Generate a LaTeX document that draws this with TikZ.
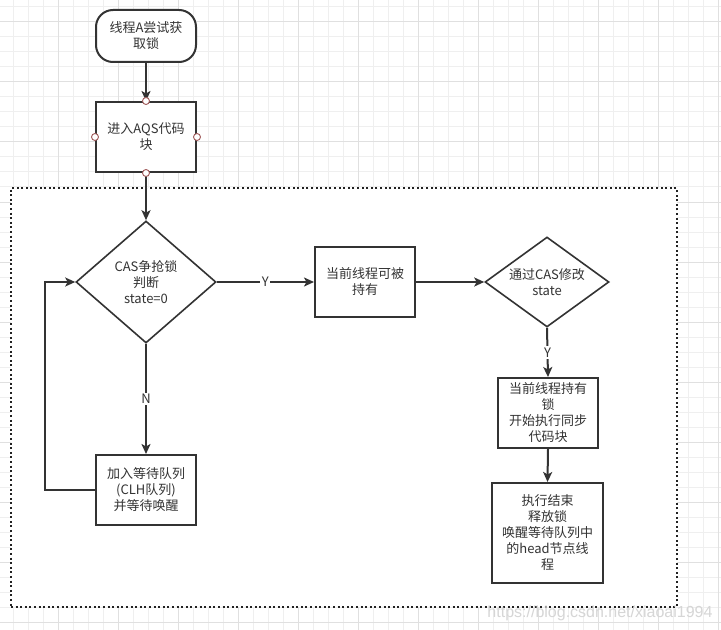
\documentclass[tikz,border=0pt]{standalone}
\usepackage{fontspec}
\setmainfont{Noto Sans CJK SC}
\newfontfamily\wmfont{Liberation Sans}
\usetikzlibrary{shapes.geometric,arrows.meta}
\definecolor{ink}{HTML}{333333}
\definecolor{dotink}{HTML}{222222}
\definecolor{gminor}{HTML}{EFEFEF}
\definecolor{gmajor}{HTML}{E0E0E0}
\definecolor{portc}{HTML}{A05A5A}
\newcommand\txtfont{\fontsize{13bp}{16bp}\selectfont}
\begin{document}
\begin{tikzpicture}[x=1bp,y=-1bp,
  box/.style={draw=ink,line width=2bp,fill=white,minimum width=100bp,minimum height=70bp,inner sep=0pt,align=center,font=\txtfont,text=ink},
  term/.style={box,rounded corners=17bp,minimum height=52bp},
  dia/.style={diamond,draw=ink,line width=1.6bp,fill=white,inner sep=0pt},
  txt/.style={align=center,font=\txtfont,text=ink,inner sep=0pt},
  arr/.style={draw=ink,line width=2bp,-{Stealth[length=10bp,width=9bp,inset=2.5bp]}},
  lbl/.style={fill=white,font=\txtfont,text=ink,inner sep=1.5bp},
  port/.style={circle,draw=portc,fill=white,line width=0.9bp,minimum size=7bp,inner sep=0pt},
  framebox/.style={draw=dotink,line width=2bp,dash pattern=on 2bp off 2.6bp,fill=white,inner sep=0pt},
  wm/.style={font=\wmfont\fontsize{16bp}{16bp}\selectfont,text=black!16,inner sep=0pt}]
\useasboundingbox (0,0) rectangle (721,630);
\fill[white] (0,0) rectangle (721,630);
% grid
\foreach \x in {13,28,...,718} \draw[gminor,line width=1bp] (\x,0) -- (\x,630);
\foreach \y in {7,22,...,622} \draw[gminor,line width=1bp] (0,\y) -- (721,\y);
\foreach \x in {58,118,...,718} \draw[gmajor,line width=1bp] (\x,0) -- (\x,630);
\foreach \y in {22,82,...,622} \draw[gmajor,line width=1bp] (0,\y) -- (721,\y);
% dotted container
\node[framebox,minimum width=666bp,minimum height=419bp] (frame) at (344,397.5) {};
% nodes
\node[term] (start) at (146,36) {线程A尝试获\\取锁};
\node[box] (aqs) at (146,137) {进入AQS代码\\块};
\node[dia,minimum width=140bp,minimum height=122bp] (d1) at (146,282) {};
\node[txt] (d1t) at (d1.center) {CAS争抢锁\\判断\\state=0};
\node[box] (bn) at (146,490) {加入等待队列\\(CLH队列)\\并等待唤醒};
\node[box] (b2) at (365,282) {当前线程可被\\持有};
\node[dia,minimum width=124bp,minimum height=90bp] (d2) at (547,282) {};
\node[txt] (d2t) at (d2.center) {通过CAS修改\\state};
\node[box] (b3) at (548,413) {当前线程持有\\锁\\开始执行同步\\代码块};
\node[box,minimum width=111bp,minimum height=100bp] (b4) at (547.5,533) {执行结束\\释放锁\\唤醒等待队列中\\的head节点线\\程};
% connectors
\draw[arr] (start.south) -- (aqs.north);
\draw[arr] (aqs.south) -- (d1.north);
\draw[arr] (d1.east) -- node[lbl] (ly1) {Y} (b2.west);
\draw[arr] (d1.south) -- node[lbl] (ln) {N} (bn.north);
\draw[arr] (bn.west) -- ++(-50,0) |- (d1.west);
\draw[arr] (b2.east) -- (d2.west);
\draw[arr] (d2.south) -- node[lbl] (ly2) {Y} (b3.north);
\draw[arr] (b3.south) -- (b4.north);
% connection ports on the selected box
\node[port] (pt) at (aqs.north) {};
\node[port] (pl) at (aqs.west) {};
\node[port] (pr) at (aqs.east) {};
\node[port] (pb) at (aqs.south) {};
% watermark
\node[wm] (wmark) at (600,613) {https://blog.csdn.net/xiaoai1994};
\end{tikzpicture}
\end{document}
